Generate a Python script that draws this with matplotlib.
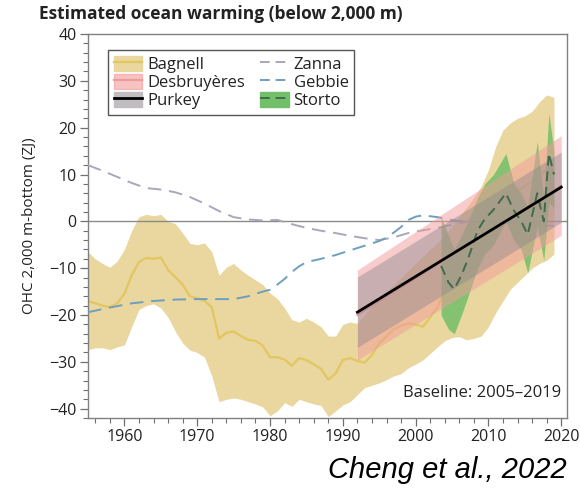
import numpy as np
import matplotlib
matplotlib.use("Agg")
from matplotlib import pyplot as plt
from matplotlib.patches import Patch
from matplotlib.lines import Line2D

plt.rcParams['font.family'] = ['Open Sans', 'DejaVu Sans']

# Bagnell: annual mean and uncertainty envelope (ZJ)
bagnell_years = list(range(1955, 2020))
bagnell_mean = [-17, -17.5, -18, -18.3, -17.5, -15.5, -11.5, -8.7, -7.8, -8,
                -7.7, -10.4, -11.9, -13.5, -16, -16.4, -17, -18.3, -25, -23.8,
                -23.5, -24.5, -25.3, -25.5, -26.5, -29, -29, -29.5, -30.8, -29.2,
                -29.6, -30.5, -31.5, -33.8, -32.5, -29.6, -29.2, -29.8, -30.2, -28.5,
                -26, -24.6, -23, -22.3, -21.8, -22, -22.5, -20.5, -18.3, -15,
                -13, -12, -11, -10.2, -7, -1, 3, 4.8, 6, 6.4,
                7.5, 8.5, 9.8, 11, 10.2]
bagnell_upper = [-6.5, -8, -9, -9.8, -8.5, -6, -2, 1, 1.5, 1.2,
                 1.5, 0, -0.5, -2.5, -4.7, -5, -4.6, -6.5, -11.5, -9.8,
                 -9, -10.4, -11.5, -12.5, -13.5, -15.3, -16.5, -18.5, -21, -21.5,
                 -20.7, -21.5, -22.5, -24.5, -24.5, -22, -21.5, -21.8, -20, -18,
                 -16.5, -15, -13.5, -12, -10.5, -9, -7.5, -6, -4.5, -3,
                 -1, 1, 3, 5, 7.5, 11, 16, 19.5, 21, 22,
                 22.5, 23.5, 25.5, 27, 26.5]
bagnell_lower = [-27.4, -27, -27, -27.4, -26.8, -26.4, -22.5, -18.8, -18, -17.6,
                 -18.5, -20.5, -23.5, -26, -27.5, -28, -29, -33, -38.5, -38,
                 -37.7, -38, -38.5, -39, -39.6, -41.5, -40.5, -38.7, -39.5, -38,
                 -38.5, -39, -39.3, -41.7, -40.5, -39.2, -38.5, -37, -35.5, -35,
                 -34.5, -33.8, -33, -32.5, -31.3, -30.5, -29.6, -28.2, -26.8, -25.5,
                 -24.8, -24.6, -25.3, -25, -24.5, -22.5, -19.5, -17, -14.5, -13,
                 -11.5, -10, -9, -8.3, -7]

# Desbruyeres and Purkey linear trends with ranges
trend_years = [1992, 2020]
desbruyeres_mean = [-20, 7.6]
desbruyeres_upper = [-10.4, 18.3]
desbruyeres_lower = [-29.6, -3]
purkey_mean = [-19.4, 7.3]
purkey_upper = [-11.9, 14.8]
purkey_lower = [-26.9, -0.2]

# Zanna
zanna_years = [1955, 1957, 1959, 1961, 1963, 1965, 1967, 1969, 1971, 1973, 1975, 1977,
               1979, 1981, 1983, 1985, 1987, 1989, 1991, 1993, 1995, 1997, 1999, 2001,
               2003, 2005, 2007, 2009, 2011, 2013, 2015, 2017, 2019]
zanna_ohc = [12, 10.8, 9.5, 8.2, 7.1, 6.8, 6.2, 5.2, 3.8, 2.2, 0.9, 0.4,
             0.2, 0.3, -0.6, -1.4, -2.0, -2.5, -3.1, -3.6, -4.0, -3.4, -2.5, -1.9,
             -1.4, -0.7, -0.1, 0.2, 0.1, -0.3, -0.6, -0.8, -1.0]

# Gebbie
gebbie_years = [1955, 1958, 1961, 1964, 1967, 1970, 1973, 1975, 1977, 1979, 1980, 1981,
                1982, 1983, 1984, 1985, 1987, 1989, 1991, 1993, 1995, 1996, 1997, 1998,
                1999, 2000, 2001, 2003, 2005, 2007, 2009, 2011, 2013, 2015]
gebbie_ohc = [-19.4, -18.4, -17.5, -17, -16.7, -16.6, -16.6, -16.6, -16, -15, -14.6, -13.5,
              -12.3, -10.8, -9.6, -8.7, -8, -7.2, -6.2, -5.2, -4.2, -3.5, -2.4, -1.2,
              0.3, 1.0, 1.3, 0.9, 0.3, -0.1, -0.2, -0.1, -0.1, 0]

# Storto
storto_years = [2003.5, 2004.5, 2005.3, 2006.3, 2007.2, 2008.5, 2009.5, 2010.7,
                2012.4, 2013.5, 2014.5, 2015.4, 2016.7, 2017.6, 2018.3, 2019.0]
storto_mean = [-9.5, -13, -14.5, -11.5, -8, -2, 0.5, 2.5, 6, 2.3, 0, -2.8, 6, 0, 14.5, 10]
storto_upper = [1, -3, -6, -3, 0, 5, 8, 10, 14.5, 8, 6, 3, 17, 5, 23, 15]
storto_lower = [-20, -23, -24, -20, -16, -10, -7, -5, 0, -4, -6, -11, -1, -8.3, 4, 3]

c_bag = '#E9D79F'
c_bag_line = '#E2C660'
c_des = '#F29A9A'
c_pur = '#8E8A8E'
c_sto = '#72BF6A'
c_sto_line = '#3F6B4B'
c_zan = '#A9A8BA'
c_geb = '#6E9FBE'

fig = plt.figure(figsize=(5.8, 4.93), dpi=100)
ax = fig.add_axes([0.1517, 0.152, 0.826, 0.779])

ax.fill_between(bagnell_years, bagnell_lower, bagnell_upper, color=c_bag, lw=0, zorder=1)
ax.plot(bagnell_years, bagnell_mean, color=c_bag_line, lw=1.6, zorder=2)

ax.axhline(0, color='#8a8a8a', lw=1, zorder=2.5)

ax.plot(zanna_years, zanna_ohc, color=c_zan, lw=1.4, dashes=(7, 4), zorder=3)
ax.plot(gebbie_years, gebbie_ohc, color=c_geb, lw=1.4, dashes=(7, 4), zorder=3)

ax.fill_between(storto_years, storto_lower, storto_upper, color=c_sto, alpha=0.85, lw=0, zorder=4)

ax.fill_between(trend_years, desbruyeres_lower, desbruyeres_upper, color=c_des, alpha=0.5, lw=0, zorder=5)
ax.plot(trend_years, desbruyeres_mean, color=c_des, lw=1.5, zorder=5)
ax.fill_between(trend_years, purkey_lower, purkey_upper, color=c_pur, alpha=0.45, lw=0, zorder=6)

ax.plot(storto_years, storto_mean, color=c_sto_line, lw=1.4, dashes=(5, 3), zorder=7)
ax.plot(trend_years, purkey_mean, color='black', lw=2, zorder=8)

ax.set_xlim(1955, 2020.8)
ax.set_ylim(-42, 40)
ax.set_xticks(range(1960, 2021, 10))
ax.set_xticks(range(1956, 2021, 2), minor=True)
ax.set_yticks(range(-40, 41, 10))
ax.set_yticks(range(-42, 41, 2), minor=True)
ax.set_yticklabels(['\u2212' + str(-v) if v < 0 else str(v) for v in range(-40, 41, 10)])
ax.tick_params(axis='both', which='major', labelsize=11.5, length=6, width=0.9,
               color='#707070', labelcolor='#222222', pad=2)
ax.tick_params(axis='both', which='minor', length=3.5, width=0.8, color='#707070')
for s in ax.spines.values():
    s.set_color('#808080')
    s.set_linewidth(1)

ax.set_ylabel('OHC 2,000 m-bottom (ZJ)', fontsize=11, color='#222222', labelpad=9)

handles = [
    (Patch(color=c_bag), Line2D([], [], color=c_bag_line, lw=1.6)),
    (Patch(color=c_des, alpha=0.6), Line2D([], [], color=c_des, lw=1.6)),
    (Patch(color='#c0bcc0'), Line2D([], [], color='black', lw=2)),
    Line2D([], [], color=c_zan, lw=1.4, dashes=(5, 3)),
    Line2D([], [], color=c_geb, lw=1.4, dashes=(5, 3)),
    (Patch(color=c_sto), Line2D([], [], color=c_sto_line, lw=1.4, dashes=(5, 3))),
]
labels = ['Bagnell', 'Desbruy\u00e8res', 'Purkey', 'Zanna', 'Gebbie', 'Storto']
leg = ax.legend(handles, labels, ncol=2, loc='upper left', bbox_to_anchor=(0.025, 0.98),
                fontsize=12, frameon=True, fancybox=False, edgecolor='#555555',
                framealpha=1, labelspacing=0.05, handlelength=1.7, handleheight=1.0,
                handletextpad=0.3, columnspacing=0.9, borderpad=0.35)
leg.get_frame().set_linewidth(1)
for t in leg.get_texts():
    t.set_color('#222222')

ax.text(0.988, 0.045, 'Baseline: 2005\u20132019', transform=ax.transAxes, ha='right',
        va='bottom', fontsize=12, color='#222222')

fig.text(0.067, 0.972, 'Estimated ocean warming (below 2,000 m)', fontsize=12.5,
         fontweight='bold', ha='left', va='center', color='#222222')
fig.text(0.977, 0.047, 'Cheng et al., 2022', fontsize=21, style='italic',
         family='Liberation Sans', ha='right', va='center', color='black')

plt.savefig('out.png', dpi=100)
